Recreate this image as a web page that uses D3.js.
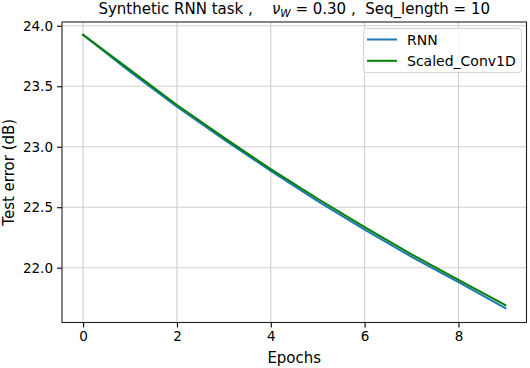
<!DOCTYPE html>
<html><head><meta charset="utf-8">
<script src="https://cdn.jsdelivr.net/npm/d3@7"></script>
<style>body{margin:0;background:#fff}svg{display:block}text{font-family:"DejaVu Sans",sans-serif;fill:#000}</style>
</head><body><svg id="c" width="530" height="368"></svg>
<script>
const epochs = [0,1,2,3,4,5,6,7,8,9];
const rnn = [23.925,23.62,23.33,23.06,22.80,22.55,22.315,22.09,21.88,21.665];
const conv = [23.925,23.635,23.345,23.075,22.815,22.57,22.335,22.11,21.90,21.69];
const xTicks = [0,2,4,6,8];
const yTicks = [22.0,22.5,23.0,23.5,24.0];
const seriesNames = ["RNN","Scaled_Conv1D"];
const colors = ["#1f77b4","#008000"];

const svg = d3.select("#c");
const L=62, R=526.5, T=22, B=322.5;
const x = d3.scaleLinear().domain([-0.45,9.45]).range([L,R]);
const y = d3.scaleLinear().domain([21.547,24.031]).range([B,T]);

const g = svg.append("g");
g.selectAll(".gx").data(xTicks).enter().append("line")
 .attr("x1",d=>x(d)).attr("x2",d=>x(d)).attr("y1",T).attr("y2",B)
 .attr("stroke","#cfcfcf").attr("stroke-width",1.1);
g.selectAll(".gy").data(yTicks).enter().append("line")
 .attr("y1",d=>y(d)).attr("y2",d=>y(d)).attr("x1",L).attr("x2",R)
 .attr("stroke","#cfcfcf").attr("stroke-width",1.1);

const line = d3.line().x((d,i)=>x(epochs[i])).y(d=>y(d));
[rnn,conv].forEach((s,k)=>{
  g.append("path").attr("d",line(s)).attr("fill","none")
   .attr("stroke",colors[k]).attr("stroke-width",2).attr("stroke-linecap","square");
});

const xa = svg.append("g").attr("transform",`translate(0,${B})`)
 .call(d3.axisBottom(x).tickValues(xTicks).tickFormat(d3.format("d")).tickSizeOuter(0).tickSize(5).tickPadding(4));
const ya = svg.append("g").attr("transform",`translate(${L},0)`)
 .call(d3.axisLeft(y).tickValues(yTicks).tickFormat(d3.format(".1f")).tickSizeOuter(0).tickSize(5).tickPadding(4));
[xa,ya].forEach(a=>{a.select(".domain").remove();a.selectAll("text").style("font-size","13.5px").style("font-family","DejaVu Sans");a.selectAll("line").attr("stroke","#000").attr("stroke-width",1.1);});

svg.append("rect").attr("x",L).attr("y",T).attr("width",R-L).attr("height",B-T)
 .attr("fill","none").attr("stroke","#222").attr("stroke-width",1.1);

svg.append("text").attr("x",(L+R)/2).attr("y",363).attr("text-anchor","middle").style("font-size","15px").text("Epochs");
svg.append("text").attr("transform",`translate(13.5,${(T+B)/2}) rotate(-90)`).attr("text-anchor","middle").style("font-size","15px").text("Test error (dB)");

const t = svg.append("text").attr("x",(L+R)/2).attr("y",13.5).attr("text-anchor","middle").style("font-size","15px").attr("xml:space","preserve");
t.append("tspan").text("Synthetic RNN task ,    ");
t.append("tspan").style("font-style","italic").text("ν");
t.append("tspan").attr("dy",3).style("font-size","10.5px").style("font-style","italic").text("W");
t.append("tspan").attr("dy",-3).text(" = 0.30 ,  Seq_length = 10");

const lg = svg.append("g");
lg.append("rect").attr("x",363.5).attr("y",28.5).attr("width",158).attr("height",44).attr("rx",3)
 .attr("fill","#fff").attr("fill-opacity",0.8).attr("stroke","#d5d5d5").attr("stroke-width",1);
seriesNames.forEach((n,i)=>{
  const yy = 39.5 + i*21.3;
  lg.append("line").attr("x1",367).attr("x2",397).attr("y1",yy).attr("y2",yy).attr("stroke",colors[i]).attr("stroke-width",2);
  lg.append("text").attr("x",407).attr("y",yy+5).style("font-size","14px").text(n);
});
</script></body></html>
